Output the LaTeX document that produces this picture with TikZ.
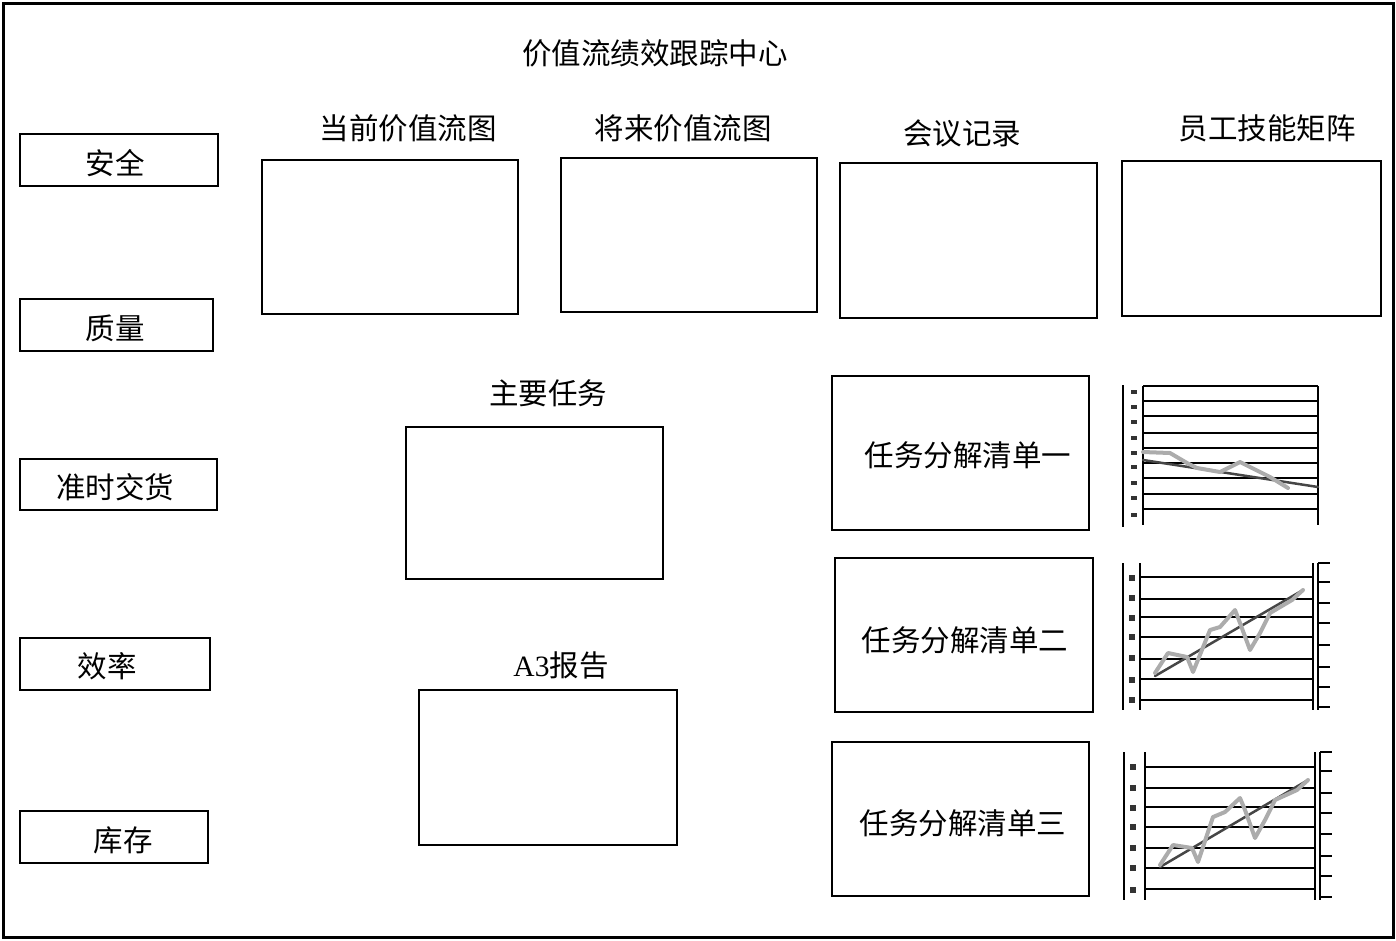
\documentclass[tikz,border=0pt]{standalone}
\usepackage{fontspec}
\setmainfont{Liberation Serif}
\newfontfamily\cjk{Noto Sans CJK SC}
\begin{document}
\begin{tikzpicture}[x=1pt,y=-1pt,
  box/.style={draw, line width=2.8pt, rectangle, inner sep=0pt, outer sep=0pt},
  lbl/.style={inner sep=0pt, font=\cjk\fontsize{29.5}{32}\selectfont},
  grid/.style={line width=2pt, black},
  axis/.style={line width=1.6pt, black},
  data/.style={line width=4pt, gray!65, line join=round, line cap=round},
  trend/.style={line width=2.5pt, gray!55!black, line cap=round},
  tick/.style={fill=gray!40!black}]
\useasboundingbox (0,0) rectangle (1396,940);
\draw[line width=3pt] (3,3) rectangle (1393,937);
% title
\node[lbl] (title) at (655,53) {价值流绩效跟踪中心};
% left column
\node[box, minimum width=198, minimum height=52] (s1) at (119,160) {};
\node[lbl] (s1t) at (115,163) {安全};
\node[box, minimum width=193, minimum height=52] (s2) at (116.5,325) {};
\node[lbl] (s2t) at (115,328) {质量};
\node[box, minimum width=197, minimum height=51] (s3) at (118.5,484.5) {};
\node[lbl] (s3t) at (115,487) {准时交货};
\node[box, minimum width=190, minimum height=52] (s4) at (115,664) {};
\node[lbl] (s4t) at (107,666) {效率};
\node[box, minimum width=188, minimum height=52] (s5) at (114,837) {};
\node[lbl] (s5t) at (123,840) {库存};
% top row
\node[lbl] (l1) at (408,128) {当前价值流图};
\node[box, minimum width=256, minimum height=154] (b1) at (390,237) {};
\node[lbl] (l2) at (683,128) {将来价值流图};
\node[box, minimum width=256, minimum height=154] (b2) at (689,235) {};
\node[lbl] (l3) at (962,133) {会议记录};
\node[box, minimum width=257, minimum height=155] (b3) at (968.5,240.5) {};
\node[lbl] (l4) at (1267,128) {员工技能矩阵};
\node[box, minimum width=259, minimum height=155] (b4) at (1251.5,238.5) {};
% middle
\node[lbl] (l5) at (548,393) {主要任务};
\node[box, minimum width=257, minimum height=152] (b5) at (534.5,503) {};
\node[lbl] (l6) at (561,665) {\rmfamily A3\cjk 报告};
\node[box, minimum width=258, minimum height=155] (b6) at (548,767.5) {};
% task lists
\node[box, minimum width=257, minimum height=154] (t1) at (960.5,453) {};
\node[lbl] (t1t) at (968,455) {任务分解清单一};
\node[box, minimum width=258, minimum height=154] (t2) at (964,635) {};
\node[lbl] (t2t) at (965,640) {任务分解清单二};
\node[box, minimum width=257, minimum height=154] (t3) at (960.5,819) {};
\node[lbl] (t3t) at (963,823) {任务分解清单三};
% chart 1
\draw[axis] (1123,385) -- (1123,527);
\draw[axis] (1143,386) -- (1143,525);
\draw[axis] (1318,386) -- (1318,525);
\foreach \y in {386,401,416,433,448,463,478,494,509}
  \draw[grid] (1143,\y) -- (1318,\y);
\foreach \y in {392,407,422,438,453,467,483,498,515}
  \fill[tick] (1131,\y-2) rectangle (1137,\y+2);
\draw[trend] (1143,460) -- (1318,487);
\draw[data] (1143,452) -- (1170,453) -- (1187,463) -- (1197,468) -- (1220,472) -- (1240,462) -- (1250,467) -- (1270,477) -- (1288,488);
% chart 2
\draw[axis] (1123,563) -- (1123,710);
\draw[axis] (1140,563) -- (1140,710);
\draw[axis] (1313,563) -- (1313,710);
\draw[axis] (1318,563) -- (1318,710);
\foreach \y in {563,582,603,623,645,667,687,707}
  \draw[axis] (1318,\y) -- (1330,\y);
\foreach \y in {577,599,617,637,659,679,700}
  \draw[grid] (1140,\y) -- (1313,\y);
\foreach \y in {578,598,618,637,658,680,700}
  \fill[tick] (1129,\y-3) rectangle (1135,\y+3);
\draw[trend] (1155,676) -- (1303,590);
\draw[data] (1155,673) -- (1168,653) -- (1187,657) -- (1193,672) -- (1210,630) -- (1220,627) -- (1235,610) -- (1240,623) -- (1250,650) -- (1260,633) -- (1270,613) -- (1292,600) -- (1303,590);
% chart 3
\draw[axis] (1124,752) -- (1124,900);
\draw[axis] (1145,752) -- (1145,900);
\draw[axis] (1315,752) -- (1315,900);
\draw[axis] (1320,752) -- (1320,900);
\foreach \y in {752,771,793,813,834,856,876,897}
  \draw[axis] (1320,\y) -- (1332,\y);
\foreach \y in {767,788,807,827,848,868,889}
  \draw[grid] (1145,\y) -- (1315,\y);
\foreach \y in {767,788,808,827,848,868,890}
  \fill[tick] (1130,\y-3) rectangle (1136,\y+3);
\draw[trend] (1160,867) -- (1308,780);
\draw[data] (1160,865) -- (1173,845) -- (1192,848) -- (1198,862) -- (1213,817) -- (1225,812) -- (1240,798) -- (1245,810) -- (1255,838) -- (1265,820) -- (1275,800) -- (1297,790) -- (1308,780);
\end{tikzpicture}
\end{document}
